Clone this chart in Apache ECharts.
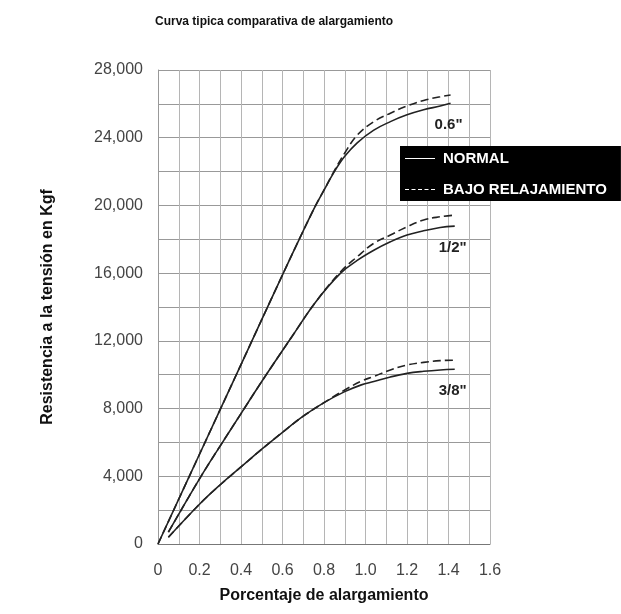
<!DOCTYPE html>
<html>
<head>
<meta charset="utf-8">
<script src="https://cdn.jsdelivr.net/npm/echarts@6/dist/echarts.min.js"></script>
<style>
  html, body { margin: 0; padding: 0; background: #fff; }
  #chart { width: 621px; height: 614px; }
</style>
</head>
<body>
<div id="chart"></div>
<script>
// Elongation (%) vs tensile strength (Kgf) for three strand diameters
const sizeLabels = ['0.6"', '1/2"', '3/8"'];

const x06 = [0, 0.2, 0.4, 0.6, 0.7, 0.76, 0.8, 0.85, 0.9, 0.96, 1.04, 1.12, 1.2, 1.28, 1.36, 1.41];
const normal06 = [0, 5300, 10600, 15900, 18500, 20000, 20900, 22000, 22900, 23700, 24450, 24950, 25350, 25650, 25870, 26030];
const relax06 = [0, 5300, 10600, 15900, 18500, 20000, 20900, 22050, 23100, 24150, 24950, 25450, 25870, 26200, 26420, 26520];

const x12 = [0.05, 0.2, 0.3, 0.4, 0.5, 0.64, 0.76, 0.88, 0.96, 1.04, 1.12, 1.2, 1.28, 1.36, 1.43];
const normal12 = [700, 3850, 5800, 7700, 9600, 12150, 14300, 16000, 16750, 17350, 17850, 18250, 18500, 18700, 18780];
const relax12 = [700, 3850, 5800, 7700, 9600, 12150, 14300, 16080, 16970, 17760, 18250, 18740, 19140, 19330, 19430];

const x38 = [0.05, 0.2, 0.3, 0.4, 0.5, 0.6, 0.7, 0.8, 0.9, 0.98, 1.04, 1.12, 1.2, 1.28, 1.36, 1.43];
const normal38 = [400, 2350, 3500, 4550, 5600, 6600, 7550, 8350, 9000, 9400, 9600, 9870, 10080, 10200, 10280, 10320];
const relax38 = [400, 2350, 3500, 4550, 5600, 6600, 7550, 8350, 9100, 9620, 9900, 10280, 10570, 10730, 10830, 10860];

const legendNames = ['NORMAL', 'BAJO RELAJAMIENTO'];

const pairs = (xs, ys) => xs.map((x, i) => [x, ys[i]]);

const curves = [
  { x: x06, normal: normal06, relax: relax06, label: sizeLabels[0] },
  { x: x12, normal: normal12, relax: relax12, label: sizeLabels[1] },
  { x: x38, normal: normal38, relax: relax38, label: sizeLabels[2] }
];

const lineColor = '#222';
const series = [];
curves.forEach(c => {
  series.push({
    name: legendNames[1],
    type: 'line',
    smooth: 0.4,
    symbol: 'none',
    data: pairs(c.x, c.relax),
    lineStyle: { color: lineColor, width: 1.6, type: [8, 4] },
    itemStyle: { color: lineColor },
    z: 3
  });
  series.push({
    name: legendNames[0],
    type: 'line',
    smooth: 0.4,
    symbol: 'none',
    data: pairs(c.x, c.normal),
    lineStyle: { color: lineColor, width: 1.6, type: 'solid' },
    itemStyle: { color: lineColor },
    endLabel: {
      show: true,
      formatter: c.label,
      color: '#222',
      fontFamily: 'Liberation Sans, Arial, sans-serif',
      fontWeight: 'bold',
      fontSize: 15,
      align: 'center',
      verticalAlign: 'middle',
      offset: [-10, 22]
    },
    z: 4
  });
});

// legend keys: a thin solid bar and a row of short dashes
const solidKey = 'path://M0,0h30v1h-30z';
const dashKey = 'path://M0,0h4v1h-4zM6.5,0h4v1h-4zM13,0h4v1h-4zM19.5,0h4v1h-4zM26,0h4v1h-4z';

const chart = echarts.init(document.getElementById('chart'), null, { renderer: 'canvas' });
chart.setOption({
  animation: false,
  backgroundColor: '#fff',
  title: {
    text: 'Curva tipica comparativa de alargamiento',
    left: 150,
    top: 11,
    textStyle: {
      fontFamily: 'Liberation Sans, Arial, sans-serif',
      fontSize: 12,
      fontWeight: 'bold',
      color: '#111'
    }
  },
  legend: {
    orient: 'vertical',
    left: 400,
    top: 146,
    selectedMode: false,
    backgroundColor: '#000',
    padding: [5, 14, 4, 5],
    itemGap: 16,
    itemWidth: 30,
    itemHeight: 1.6,
    textStyle: {
      color: '#fff',
      fontFamily: 'Liberation Sans, Arial, sans-serif',
      fontWeight: 'bold',
      fontSize: 15,
      padding: [0, 0, 0, 3]
    },
    data: [
      { name: legendNames[0], icon: solidKey, itemStyle: { color: '#fff', borderWidth: 0 } },
      { name: legendNames[1], icon: dashKey, itemStyle: { color: '#fff', borderWidth: 0 } }
    ]
  },
  grid: { left: 158, right: 131, top: 70, bottom: 70 },
  xAxis: {
    type: 'value',
    min: 0,
    max: 1.6,
    interval: 0.2,
    name: 'Porcentaje de alargamiento',
    nameLocation: 'middle',
    nameGap: 44,
    nameTextStyle: {
      fontFamily: 'Liberation Sans, Arial, sans-serif',
      fontWeight: 'bold',
      fontSize: 16,
      color: '#111'
    },
    axisLine: { show: true, lineStyle: { color: '#777', width: 1 } },
    axisTick: { show: false },
    axisLabel: {
      margin: 19,
      fontFamily: 'Liberation Sans, Arial, sans-serif',
      fontSize: 16,
      color: '#444',
      formatter: v => (v === 0 ? '0' : v.toFixed(1))
    },
    splitLine: { show: true, lineStyle: { color: '#b5b5b5', width: 1 } },
    minorTick: { show: false, splitNumber: 2 },
    minorSplitLine: { show: true, lineStyle: { color: '#b5b5b5', width: 1 } }
  },
  yAxis: {
    type: 'value',
    min: 0,
    max: 28000,
    interval: 4000,
    name: 'Resistencia a la tensión en Kgf',
    nameLocation: 'middle',
    nameGap: 102,
    nameTextStyle: {
      fontFamily: 'Liberation Sans, Arial, sans-serif',
      fontWeight: 'bold',
      fontSize: 16,
      color: '#111'
    },
    axisLine: { show: true, lineStyle: { color: '#999', width: 1 } },
    axisTick: { show: false },
    axisLabel: {
      margin: 15,
      fontFamily: 'Liberation Sans, Arial, sans-serif',
      fontSize: 16,
      color: '#444',
      formatter: v => v.toLocaleString('en-US')
    },
    splitLine: { show: true, lineStyle: { color: '#999', width: 1 } },
    minorTick: { show: false, splitNumber: 2 },
    minorSplitLine: { show: true, lineStyle: { color: '#999', width: 1 } }
  },
  series: series
});
</script>
</body>
</html>
